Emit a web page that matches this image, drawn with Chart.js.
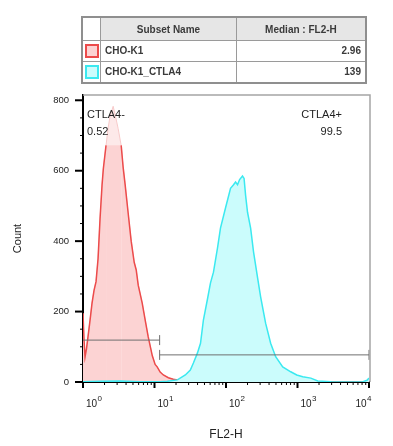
<!DOCTYPE html>
<html>
<head>
<meta charset="utf-8">
<script src="https://cdn.jsdelivr.net/npm/chart.js@4"></script>
<style>
  body { margin: 0; background: #fff; }
  #wrap { position: relative; width: 393px; height: 446px; }
  #myChart { position: absolute; left: 0; top: 0; }
  table.subsets {
    position: absolute; left: 81px; top: 16px; width: 286px; height: 68px;
    border-collapse: collapse; border: 2px solid #8f8f8f;
    font: bold 10px "Liberation Sans", Arial, sans-serif; color: #3a3a3a;
  }
  table.subsets td, table.subsets th { border: 1px solid #9a9a9a; padding: 0 4px; }
  table.subsets th { background: #e6e6e6; font-weight: bold; text-align: center; height: 22px; }
  table.subsets th.blank { background: #fff; }
  table.subsets td.num { text-align: right; }
  table.subsets td.sw { padding: 0; text-align: center; width: 17px; }
  .swatch { display: inline-block; width: 10px; height: 10px; border: 2px solid; vertical-align: middle; }
</style>
</head>
<body>
<div id="wrap">
  <canvas id="myChart" width="393" height="446"></canvas>
  <table class="subsets" id="legendTable"></table>
</div>
<script>
// subsets + medians
var subsetNames = ['CHO-K1', 'CHO-K1_CTLA4'];
var medians = ['2.96', '139'];
var lineColors = ['#ec4b4b', '#3be9f0'];
var fillColors = ['#fcd3d3', '#cbfcfc'];

// CHO-K1 histogram (FL2-H, count)
var redFL2 = [1.00, 1.033, 1.067, 1.12, 1.175, 1.254, 1.338, 1.427, 1.522, 1.624, 1.733, 1.848, 1.928, 2.10, 2.24, 2.39, 2.64, 2.81, 3.10, 3.42, 3.64, 3.89, 4.28, 4.72, 5.20, 5.55, 5.92, 6.73, 7.42, 8.17, 9.30, 10.2, 10.9, 12.0, 13.3, 15.6, 18.3, 20.9, 27, 44, 60, 10000];
var redCount = [195, 120, 71, 95, 128, 175, 224, 260, 285, 350, 465, 560, 607, 672, 720, 755, 783, 760, 720, 672, 610, 559, 480, 400, 340, 318, 275, 224, 175, 128, 75, 50, 43, 28, 20, 12, 8, 6, 2, 1, 0, 0];
var offScale = 672;

// CHO-K1_CTLA4 histogram
var cyanFL2 = [1, 1.733, 3.31, 6.31, 12.0, 15.1, 20.9, 27.0, 31.7, 35.0, 39.8, 44.0, 48.3, 55.0, 60.6, 66.8, 76.0, 83.7, 98.4, 115.7, 127.5, 136, 145, 155, 170, 179, 188, 200, 221, 243, 277, 305, 358, 421, 495, 621, 804, 976, 1185, 1535, 1923, 2930, 5590, 8236, 9375, 10000];
var cyanCount = [1, 2, 3, 1, 1, 2, 6, 20, 34, 54, 82, 110, 176, 235, 281, 312, 380, 437, 494, 550, 560, 568, 560, 575, 585, 578, 530, 482, 437, 369, 295, 242, 167, 110, 72, 43, 29, 20, 15, 11, 3, 1, 0, 1, 5, 11];

// gates
var gateNames = ['CTLA4-', 'CTLA4+'];
var gatePct = ['0.52', '99.5'];
var gateFrom = [1, 11.8];
var gateTo = [11.8, 10000];
var gateY = [119, 77];

// axis
var decades = [0, 1, 2, 3, 4];
var countTicks = [0, 200, 400, 600, 800];

// legend table
var tbl = document.getElementById('legendTable');
var html = '<tr><th class="blank"></th><th>Subset Name</th><th>Median : FL2-H</th></tr>';
for (var i = 0; i < subsetNames.length; i++) {
    html += '<tr><td class="sw"><span class="swatch" style="border-color:' + lineColors[i] + ';background:' + fillColors[i] + '"></span></td>' +
        '<td>' + subsetNames[i] + '</td><td class="num">' + medians[i] + '</td></tr>';
}
tbl.innerHTML = html;

function pts(xs, ys) {
    return xs.map(function (x, i) { return {x: x, y: ys[i]}; });
}

var datasets = [];
// gates on top
for (var g = 0; g < gateNames.length; g++) {
    datasets.push({
        label: gateNames[g],
        data: [{x: gateFrom[g], y: gateY[g]}, {x: gateTo[g], y: gateY[g]}],
        borderColor: '#6f6f6f',
        borderWidth: 1,
        pointStyle: 'line',
        rotation: 90,
        pointRadius: g === 0 ? [0, 5] : [5, 5],
        pointBorderColor: '#6f6f6f',
        pointBorderWidth: 1,
        fill: false,
        clip: false,
        order: 0
    });
}
datasets.push({
    label: subsetNames[1],
    data: pts(cyanFL2, cyanCount),
    borderColor: lineColors[1],
    backgroundColor: fillColors[1],
    borderWidth: 1.5,
    pointRadius: 0,
    fill: 'origin',
    order: 1
});
datasets.push({
    label: subsetNames[0],
    data: pts(redFL2, redCount.map(function (c) { return Math.min(c, offScale); })),
    borderColor: lineColors[0],
    backgroundColor: fillColors[0],
    borderWidth: 1.5,
    pointRadius: 0,
    fill: 'origin',
    segment: {
        borderColor: function (ctx) {
            return (ctx.p0.parsed.y >= offScale && ctx.p1.parsed.y >= offScale) ? 'rgba(0,0,0,0)' : undefined;
        }
    },
    order: 2
});
// off-scale part of the CHO-K1 peak
datasets.push({
    label: subsetNames[0] + ' peak',
    data: pts(redFL2, redCount),
    borderColor: '#f7caca',
    backgroundColor: '#fde9e9',
    borderWidth: 1,
    pointRadius: 0,
    fill: 'origin',
    order: 3
});

var marks = {
    id: 'marks',
    afterDraw: function (chart) {
        var c = chart.ctx, a = chart.chartArea;
        var xs = chart.scales.x, ys = chart.scales.y;
        c.save();
        // frame top/right
        c.strokeStyle = '#a5a5a5';
        c.lineWidth = 1.5;
        c.beginPath();
        c.moveTo(a.left, a.top);
        c.lineTo(a.right + 1, a.top);
        c.lineTo(a.right + 1, a.bottom);
        c.stroke();
        // tick marks
        c.strokeStyle = '#000';
        xs.ticks.forEach(function (t) {
            var l = Math.log10(t.value);
            var major = Math.abs(l - Math.round(l)) < 1e-9;
            var px = xs.getPixelForValue(t.value);
            c.lineWidth = major ? 2 : 1;
            c.beginPath();
            c.moveTo(px, a.bottom);
            c.lineTo(px, a.bottom + (major ? 6 : 3));
            c.stroke();
        });
        ys.ticks.forEach(function (t) {
            var major = t.value % 200 === 0;
            var py = ys.getPixelForValue(t.value);
            c.lineWidth = major ? 2 : 1;
            c.beginPath();
            c.moveTo(a.left, py);
            c.lineTo(a.left - (major ? 8 : 3), py);
            c.stroke();
        });
        // decade labels 10^n
        c.fillStyle = '#222';
        c.textBaseline = 'alphabetic';
        decades.forEach(function (e, k) {
            var px = xs.getPixelForValue(Math.pow(10, e));
            c.font = '10px "Liberation Sans", Arial, sans-serif';
            var w1 = c.measureText('10').width;
            c.font = '8px "Liberation Sans", Arial, sans-serif';
            var w2 = c.measureText(String(e)).width;
            var x0 = k === decades.length - 1 ? px + 2 - w1 - w2 : px + 3;
            c.textAlign = 'left';
            c.font = '10px "Liberation Sans", Arial, sans-serif';
            c.fillText('10', x0, a.bottom + 25);
            c.font = '8px "Liberation Sans", Arial, sans-serif';
            c.fillText(String(e), x0 + w1 + 0.5, a.bottom + 19);
        });
        // gate labels
        c.fillStyle = '#222';
        c.font = '11px "Liberation Sans", Arial, sans-serif';
        c.textAlign = 'left';
        c.fillText(gateNames[0], a.left + 4, a.top + 23);
        c.fillText(gatePct[0], a.left + 4, a.top + 40);
        c.textAlign = 'right';
        c.fillText(gateNames[1], a.right - 27, a.top + 23);
        c.fillText(gatePct[1], a.right - 27, a.top + 40);
        c.restore();
    }
};

var ctx = document.getElementById('myChart').getContext('2d');
var chart = new Chart(ctx, {
    type: 'line',
    data: {datasets: datasets},
    options: {
        responsive: false,
        animation: false,
        layout: {padding: {left: 0, top: 95, right: 24, bottom: 0}},
        plugins: {legend: {display: false}, tooltip: {enabled: false}},
        scales: {
            x: {
                type: 'logarithmic',
                min: 1,
                max: 10000,
                afterBuildTicks: function (scale) {
                    var t = [];
                    for (var e = 0; e < 4; e++) {
                        for (var m = 1; m < 10; m++) t.push({value: m * Math.pow(10, e)});
                    }
                    t.push({value: 10000});
                    scale.ticks = t;
                },
                afterFit: function (scale) { scale.height = 64; },
                grid: {drawOnChartArea: false, drawTicks: false},
                border: {color: '#000', width: 2},
                ticks: {
                    autoSkip: false,
                    maxRotation: 0,
                    padding: 9,
                    callback: function () { return ''; }
                },
                title: {
                    display: true,
                    text: 'FL2-H',
                    color: '#222',
                    font: {family: 'Liberation Sans', size: 12},
                    padding: {top: 0, bottom: 4}
                }
            },
            y: {
                min: 0,
                max: 815,
                afterBuildTicks: function (scale) {
                    var t = [];
                    for (var v = 0; v <= countTicks[countTicks.length - 1]; v += 50) t.push({value: v});
                    scale.ticks = t;
                },
                afterFit: function (scale) { scale.width = 83; },
                grid: {drawOnChartArea: false, drawTicks: false},
                border: {color: '#000', width: 2},
                ticks: {
                    autoSkip: false,
                    padding: 14,
                    color: '#222',
                    font: {family: 'Liberation Sans', size: 9.5},
                    callback: function (v) { return countTicks.indexOf(v) >= 0 ? v : ''; }
                },
                title: {
                    display: true,
                    text: 'Count',
                    color: '#222',
                    font: {family: 'Liberation Sans', size: 11},
                    padding: {top: 11, bottom: 0}
                }
            }
        }
    },
    plugins: [marks]
});
</script>
</body>
</html>
